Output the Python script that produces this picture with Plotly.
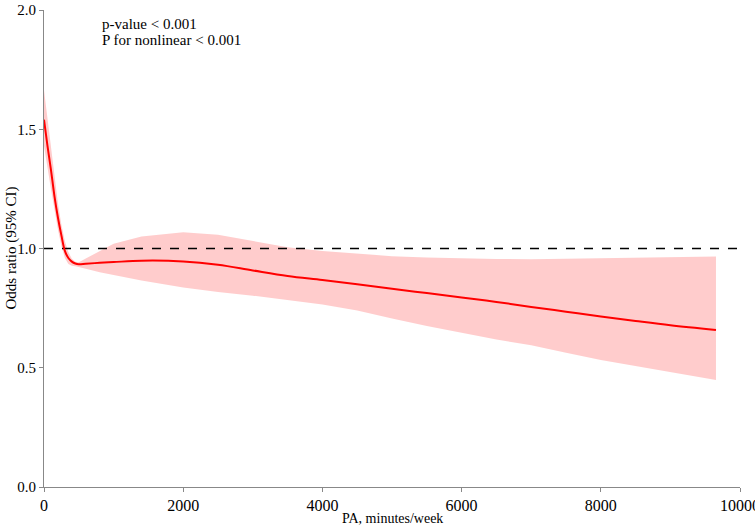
import plotly.graph_objects as go

pa = [0, 50, 100, 150, 200, 250, 300, 350, 400, 450, 500, 600, 800, 1000, 1400,
      2000, 2500, 3000, 3500, 4000, 4500, 5000, 5500, 6000, 6500, 7000, 7500,
      8000, 8500, 9000, 9655]
odds = [1.540, 1.43, 1.33, 1.22, 1.13, 1.055, 0.99, 0.96, 0.945, 0.937, 0.934,
        0.936, 0.940, 0.943, 0.949, 0.946, 0.932, 0.908, 0.885, 0.868, 0.850,
        0.831, 0.813, 0.795, 0.776, 0.755, 0.735, 0.715, 0.696, 0.678, 0.658]
upper = [1.665, 1.55, 1.43, 1.30, 1.19, 1.10, 1.03, 0.985, 0.957, 0.944, 0.942,
         0.958, 0.990, 1.020, 1.050, 1.068, 1.058, 1.032, 1.005, 0.990, 0.978,
         0.968, 0.962, 0.958, 0.956, 0.955, 0.957, 0.960, 0.962, 0.964, 0.966]
lower = [1.43, 1.34, 1.25, 1.16, 1.08, 1.01, 0.96, 0.935, 0.928, 0.926, 0.924,
         0.915, 0.900, 0.888, 0.866, 0.836, 0.818, 0.802, 0.785, 0.765, 0.740,
         0.706, 0.675, 0.645, 0.618, 0.594, 0.563, 0.533, 0.508, 0.482, 0.449]

x_ticks = [0, 2000, 4000, 6000, 8000, 10000]
y_ticks = [0.0, 0.5, 1.0, 1.5, 2.0]
notes = ["p-value < 0.001", "P for nonlinear < 0.001"]
x_title = "PA, minutes/week"
y_title = "Odds ratio (95% CI)"

FONT = "Liberation Serif"

fig = go.Figure()
fig.add_trace(go.Scatter(x=pa + pa[::-1], y=upper + lower[::-1], fill="toself",
                         fillcolor="rgba(255,0,0,0.2)", line=dict(width=0),
                         mode="lines", hoverinfo="skip", showlegend=False))
fig.add_trace(go.Scatter(x=[0, 10000], y=[1, 1], mode="lines",
                         line=dict(color="black", width=1.6, dash="dash"),
                         showlegend=False))
fig.add_trace(go.Scatter(x=pa, y=odds, mode="lines",
                         line=dict(color="red", width=2, shape="spline"),
                         showlegend=False))

for i, note in enumerate(notes):
    fig.add_annotation(x=800, y=1.941 - 0.068 * i, xref="x", yref="y",
                       xanchor="left", yanchor="middle", text=note, showarrow=False,
                       font=dict(size=15, color="black", family=FONT))

fig.add_annotation(x=0.5, y=0, xref="paper", yref="paper", yshift=-31,
                   text=x_title, showarrow=False, xanchor="center", yanchor="middle",
                   font=dict(size=14, color="black", family=FONT))
fig.add_annotation(x=0, y=0.5, xref="paper", yref="paper", xshift=-33,
                   text=y_title, showarrow=False, textangle=-90,
                   xanchor="center", yanchor="middle",
                   font=dict(size=15, color="black", family=FONT))

fig.update_layout(
    width=755, height=528,
    margin=dict(l=44, r=15, t=10, b=41),
    plot_bgcolor="white", paper_bgcolor="white",
    font=dict(family=FONT, size=15, color="black"),
)
fig.update_xaxes(range=[0, 10000], tickvals=x_ticks, ticktext=[str(v) for v in x_ticks],
                 tickfont=dict(size=16), ticklabeloverflow="allow",
                 showgrid=False, zeroline=False, showline=True, linecolor="#888888", linewidth=1,
                 ticks="outside", ticklen=4, tickcolor="#888888", automargin=False)
fig.update_yaxes(range=[0, 2], tickvals=y_ticks, ticktext=[f"{v:.1f}" for v in y_ticks],
                 ticklabeloverflow="allow",
                 showgrid=False, zeroline=False, showline=True, linecolor="#888888", linewidth=1,
                 ticks="outside", ticklen=4, tickcolor="#888888", automargin=False)

fig.write_html("out.html", config={"displayModeBar": False},
               post_script="document.body.style.margin='0';")
